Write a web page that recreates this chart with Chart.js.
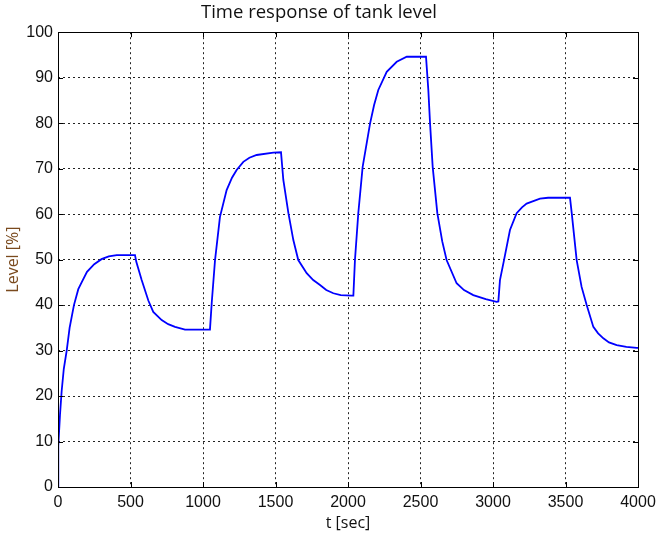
<!DOCTYPE html>
<html>
<head>
<meta charset="utf-8">
<script src="https://cdn.jsdelivr.net/npm/chart.js@4"></script>
<style>
  html, body { margin: 0; padding: 0; background: #fff; }
  #wrap { width: 659px; height: 543px; }
</style>
</head>
<body>
<div id="wrap"><canvas id="level" width="659" height="543"></canvas></div>
<script>

// time (sec) and tank level (%)
var times = [
  0, 2, 14, 25, 40, 60, 80, 110, 140, 163, 200, 250, 300, 350, 405, 531,
  540, 577, 623, 657, 715, 760, 807, 876, 1041,
  1048, 1060, 1083, 1117, 1163, 1200, 1232, 1278, 1320, 1370, 1485, 1538,
  1554, 1589, 1623, 1657, 1715, 1760, 1807, 1850, 1899, 1950, 2025, 2037,
  2048, 2071, 2101, 2152, 2180, 2209, 2267, 2336, 2405, 2538,
  2554, 2566, 2584, 2616, 2650, 2680, 2749, 2800, 2864, 2950, 3025, 3037,
  3048, 3076, 3117, 3163, 3200, 3232, 3324, 3380, 3531,
  3543, 3577, 3611, 3646, 3692, 3725, 3761, 3800, 3853, 3920, 3991, 4000
];
var levels = [
  0, 9, 16, 21, 26, 30, 35, 40, 43.5, 45, 47.3, 49, 50.1, 50.7, 51, 51,
  49.5, 45.5, 41, 38.5, 36.7, 35.8, 35.2, 34.6, 34.6,
  34.6, 40.4, 49.9, 59.4, 65.3, 68, 69.7, 71.5, 72.4, 73, 73.5, 73.6,
  67.5, 60.2, 54.3, 49.9, 47, 45.5, 44.4, 43.3, 42.6, 42.2, 42.1, 42.1,
  49.9, 60.2, 70.4, 79.9, 84, 87.3, 91.3, 93.5, 94.6, 94.6,
  87.3, 79.9, 70.4, 60.2, 54, 49.9, 44.8, 43.3, 42.2, 41.3, 40.7, 40.8,
  45.5, 49.9, 56.5, 60.2, 61.5, 62.3, 63.4, 63.6, 63.6,
  60.2, 49.9, 44, 40, 35.2, 33.8, 32.7, 31.8, 31.2, 30.8, 30.6, 30.6
];

var xTicks = [0, 500, 1000, 1500, 2000, 2500, 3000, 3500, 4000];
var yTicks = [0, 10, 20, 30, 40, 50, 60, 70, 80, 90, 100];

var points = [];
for (var i = 0; i < times.length; i++) {
  points.push({ x: times[i], y: levels[i] });
}

// matlab style: box round the axes and short ticks pointing inward
var boxTicks = {
  id: 'boxTicks',
  afterDraw: function(chart) {
    var ctx = chart.ctx;
    var a = chart.chartArea;
    var xs = chart.scales.x, ys = chart.scales.y;
    ctx.save();
    ctx.strokeStyle = '#000';
    ctx.lineWidth = 1;
    ctx.beginPath();
    xTicks.forEach(function(v) {
      var px = Math.round(xs.getPixelForValue(v)) + 0.5;
      ctx.moveTo(px, a.bottom); ctx.lineTo(px, a.bottom - 5);
      ctx.moveTo(px, a.top); ctx.lineTo(px, a.top + 5);
    });
    yTicks.forEach(function(v) {
      var py = Math.round(ys.getPixelForValue(v)) + 0.5;
      ctx.moveTo(a.left, py); ctx.lineTo(a.left + 5, py);
      ctx.moveTo(a.right, py); ctx.lineTo(a.right - 5, py);
    });
    ctx.stroke();
    ctx.strokeRect(Math.round(a.left) + 0.5, Math.round(a.top) + 0.5,
                   Math.round(a.right - a.left), Math.round(a.bottom - a.top));
    ctx.restore();
  }
};

function plain(v) { return String(v); }

var ctx = document.getElementById('level');
new Chart(ctx, {
  type: 'line',
  data: {
    datasets: [{
      label: 'level',
      data: points,
      borderColor: '#0000ff',
      borderWidth: 1.8,
      pointRadius: 0,
      tension: 0,
      fill: false
    }]
  },
  options: {
    responsive: false,
    animation: false,
    layout: { padding: { right: 21 } },
    plugins: {
      legend: { display: false },
      tooltip: { enabled: false },
      title: {
        display: true,
        text: 'Time response of tank level',
        color: '#111',
        font: { family: 'Open Sans', size: 18.5, weight: 'normal' },
        padding: { top: 2, bottom: 8 }
      }
    },
    scales: {
      x: {
        type: 'linear',
        min: 0,
        max: 4000,
        afterBuildTicks: function(s) { s.ticks = xTicks.map(function(v) { return { value: v }; }); },
        afterFit: function(s) { s.height = 56; s.paddingRight = 0; s.paddingLeft = 0; },
        grid: { color: '#222', lineWidth: 1, drawTicks: false },
        border: { display: false, dash: [2, 3] },
        ticks: {
          color: '#111',
          padding: 6,
          maxRotation: 0,
          autoSkip: false,
          callback: plain,
          font: { family: 'Liberation Sans', size: 16 }
        },
        title: {
          display: true,
          text: 't [sec]',
          color: '#111',
          font: { family: 'Open Sans', size: 16 },
          padding: { top: 0, bottom: 10 }
        }
      },
      y: {
        type: 'linear',
        min: 0,
        max: 100,
        afterBuildTicks: function(s) { s.ticks = yTicks.map(function(v) { return { value: v }; }); },
        afterFit: function(s) { s.width = 58; },
        grid: { color: '#222', lineWidth: 1, drawTicks: false },
        border: { display: false, dash: [2, 3] },
        ticks: {
          color: '#111',
          padding: 5,
          autoSkip: false,
          callback: plain,
          font: { family: 'Liberation Sans', size: 16 }
        },
        title: {
          display: true,
          text: 'Level [%]',
          color: '#7a4a1e',
          font: { family: 'Open Sans', size: 16 },
          padding: { top: 4, bottom: 0 }
        }
      }
    }
  },
  plugins: [boxTicks]
});
</script>
</body>
</html>
